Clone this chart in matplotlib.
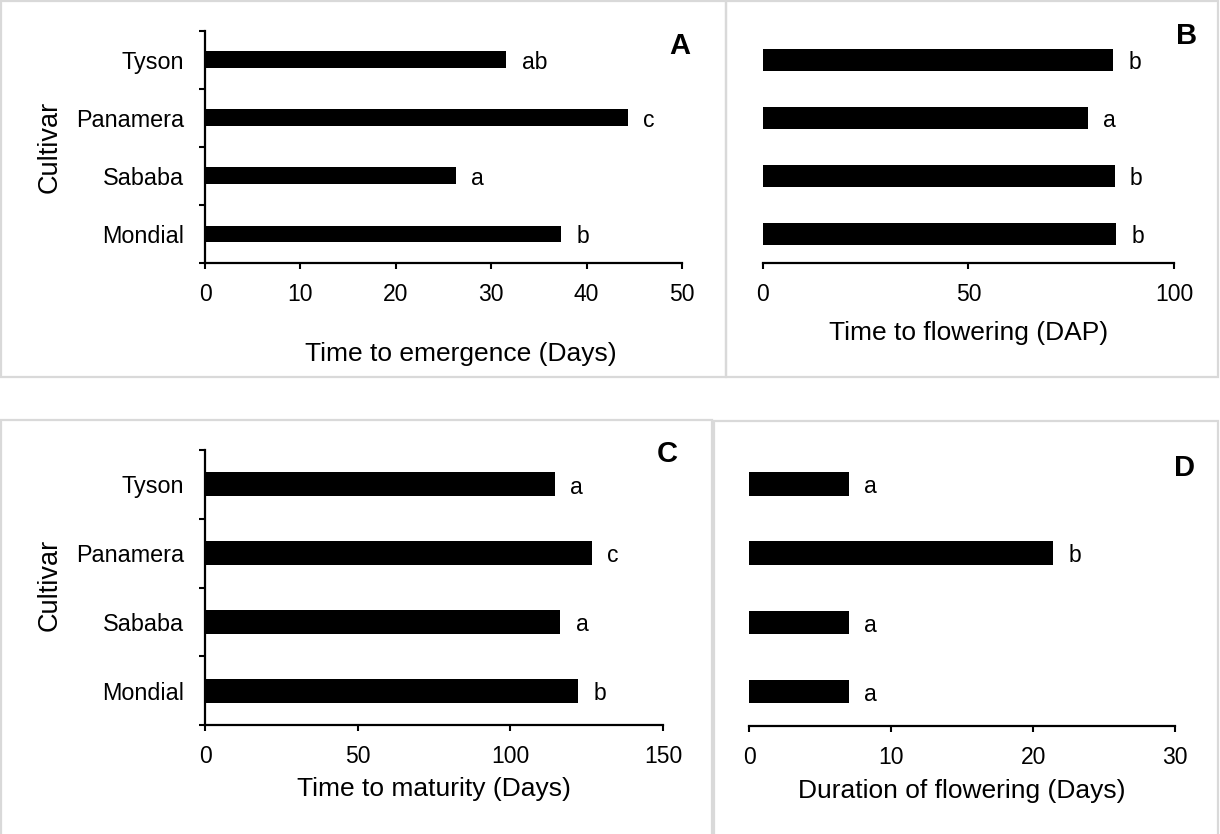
import matplotlib
matplotlib.use("Agg")
import matplotlib.pyplot as plt
from matplotlib.patches import Rectangle

# cultivars listed bottom to top
cultivars = ["Mondial", "Sababa", "Panamera", "Tyson"]

emergence_days = [37.3, 26.3, 44.3, 31.6]
emergence_sig = ["b", "a", "c", "ab"]

flowering_dap = [85.9, 85.6, 79.0, 85.2]
flowering_sig = ["b", "b", "a", "b"]

maturity_days = [122.3, 116.4, 126.8, 114.7]
maturity_sig = ["b", "a", "c", "a"]

flower_duration = [7.0, 7.0, 21.4, 7.0]
duration_sig = ["a", "a", "b", "a"]

W, H = 1220, 834
plt.rcParams["font.family"] = ["Liberation Sans", "DejaVu Sans"]

fig = plt.figure(figsize=(W / 100, H / 100), dpi=100)
fig.patch.set_facecolor("white")


def px_box(x0, y0, x1, y1):
    # pixel box (top-left origin) -> figure fraction rect
    return [x0 / W, 1 - y1 / H, (x1 - x0) / W, (y1 - y0) / H]


# grey frames round each panel
for x0, y0, x1, y1 in [(1, 1, 726, 377), (726, 1, 1218, 377),
                       (1, 420, 712, 840), (714, 421, 1218, 840)]:
    fig.patches.append(Rectangle((x0 / W, 1 - y1 / H), (x1 - x0) / W, (y1 - y0) / H,
                                 transform=fig.transFigure, fill=False,
                                 edgecolor="#d9d9d9", linewidth=1.6))


def panel(rect, values, sigs, xmax, xticks, xlabel, bar_h, show_y, xlab_xy, ylab_xy=None):
    ax = fig.add_axes(rect)
    ypos = range(len(cultivars))
    ax.barh(list(ypos), values, height=bar_h, color="black")
    for y, v, s in zip(ypos, values, sigs):
        ax.annotate(s, (v, y), xytext=(11, -2), textcoords="offset points",
                    ha="left", va="center", fontsize=16.5)
    ax.set_xlim(0, xmax)
    ax.set_ylim(-0.5, len(cultivars) - 0.5)
    ax.set_xticks(xticks)
    ax.tick_params(axis="x", direction="out", length=4, width=1.5, pad=10.5, labelsize=16.5)
    for s in ["top", "right"]:
        ax.spines[s].set_visible(False)
    ax.spines["bottom"].set_linewidth(1.6)
    if show_y:
        ax.spines["left"].set_linewidth(1.6)
        ax.set_yticks([i - 0.5 for i in range(len(cultivars) + 1)])
        ax.set_yticklabels([])
        ax.set_yticks(list(ypos), cultivars, minor=True)
        ax.tick_params(axis="y", which="major", direction="out", length=4, width=1.5)
        ax.tick_params(axis="y", which="minor", length=0, pad=15, labelsize=16.8)
        ax.set_ylabel("Cultivar", fontsize=19.5)
        ax.yaxis.set_label_coords(*ylab_xy)
        ax.yaxis.label.set_va("center")
    else:
        ax.spines["left"].set_visible(False)
        ax.set_yticks([])
    ax.set_xlabel(xlabel, fontsize=19)
    ax.xaxis.set_label_coords(*xlab_xy)
    ax.xaxis.label.set_va("center")
    return ax


panel(px_box(205, 30.7, 682, 263), emergence_days, emergence_sig, 50,
      [0, 10, 20, 30, 40, 50], "Time to emergence (Days)", 0.29, True,
      ((461 - 205) / 477, -(354 - 263) / 232.3), ((50 - 205) / 477, 0.5))
panel(px_box(762.7, 30.7, 1174, 263), flowering_dap, flowering_sig, 100,
      [0, 50, 100], "Time to flowering (DAP)", 0.38, False,
      (0.5, -(333 - 263) / 232.3))
panel(px_box(205, 450, 663, 725), maturity_days, maturity_sig, 150,
      [0, 50, 100, 150], "Time to maturity (Days)", 0.35, True,
      (0.5, -(789 - 725) / 275), ((50 - 205) / 458, 0.51))
panel(px_box(749.3, 449.5, 1175, 726), flower_duration, duration_sig, 30,
      [0, 10, 20, 30], "Duration of flowering (Days)", 0.34, False,
      (0.5, -(791 - 726) / 276.5))

for letter, x, y in [("A", 680, 46), ("B", 1187, 36), ("C", 667, 454), ("D", 1185, 468)]:
    fig.text(x / W, 1 - y / H, letter, ha="center", va="center",
             fontsize=21, fontweight="heavy")

fig.savefig("out.png", dpi=100, facecolor="white")
